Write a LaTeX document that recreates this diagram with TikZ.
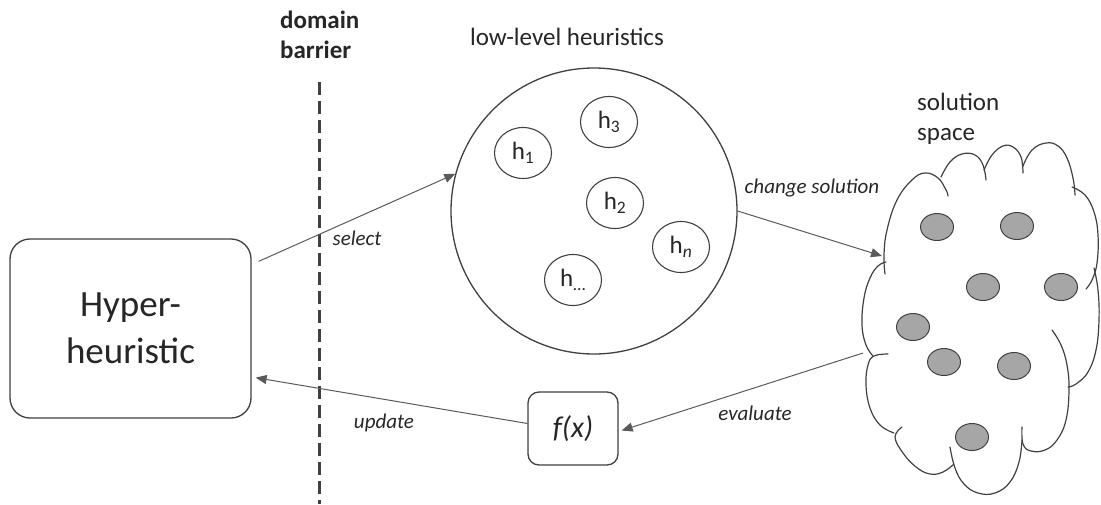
\documentclass[tikz,border=0pt]{standalone}
\usepackage{fontspec}
\setmainfont{Carlito}
\usetikzlibrary{shapes.geometric,arrows.meta,calc}
\definecolor{ink}{HTML}{262626}
\definecolor{edge}{HTML}{404040}
\definecolor{wire}{HTML}{5A5A5A}
\definecolor{dotfill}{HTML}{A6A6A6}
\begin{document}
\begin{tikzpicture}[x=1pt,y=1pt,
  title/.style={font=\fontsize{25}{30}\selectfont, text=ink, inner sep=0pt},
  edgelabel/.style={font=\itshape\fontsize{21}{25}\selectfont, text=ink, inner sep=0pt},
  roundbox/.style={draw=edge, line width=1.3pt, fill=white, inner sep=0pt},
  heur/.style={ellipse, draw=edge, line width=1.1pt, minimum width=57pt, minimum height=51pt,
    inner sep=0pt, font=\fontsize{25}{30}\selectfont, text=ink},
  soldot/.style={ellipse, draw=edge, line width=1pt, fill=dotfill, minimum width=33pt,
    minimum height=27pt, inner sep=0pt},
  lobe/.style={draw=edge, line width=1.2pt, line cap=round},
  arr/.style={wire, line width=1pt, -{Triangle[length=11pt,width=9pt]}},
  barrier/.style={edge, line width=3pt, dash pattern=on 13pt off 6pt}
]
\useasboundingbox (0,0) rectangle (1101,-504);

% domain barrier
\node[title, font=\bfseries\fontsize{25}{30}\selectfont, align=left, anchor=base west] (dbl) at (280,-58) {domain\\barrier};
\draw[barrier] (319,-82) -- (319,-504);

% hyper-heuristic box
\node[roundbox, rounded corners=20pt, minimum width=241pt, minimum height=179pt, align=center,
  font=\fontsize{37}{47}\selectfont, text=ink] (hh) at (130.5,-328.5) {Hyper-\\heuristic};

% low-level heuristics
\node[title, anchor=base] (llhl) at (567,-45) {low-level heuristics};
\node[circle, draw=edge, line width=1.3pt, minimum size=286pt, inner sep=0pt] (llh) at (594,-211) {};
\node[heur] (h1) at (523,-153) {h\textsubscript{1}};
\node[heur] (h3) at (609,-122) {h\textsubscript{3}};
\node[heur] (h2) at (615,-203) {h\textsubscript{2}};
\node[heur] (hn) at (681,-247) {h\textsubscript{\textit{n}}};
\node[heur] (hd) at (573,-280) {h\textsubscript{…}};

% solution space: a cloud made of overlapping lobes
\node[title, align=left, anchor=base west] (ssl) at (917,-140) {solution\\space};
\draw[lobe] plot[smooth, tension=0.7] coordinates {(885,-274) (884,-255) (887,-230) (897,-200) (912,-180) (925,-173) (938,-178) (946,-190) (948,-196)};
\draw[lobe] plot[smooth, tension=0.7] coordinates {(941,-177) (950,-162) (962,-154) (975,-155) (983,-165) (986,-180)};
\draw[lobe] plot[smooth, tension=0.7] coordinates {(984,-170) (992,-155) (1003,-146) (1013,-147) (1021,-157) (1023,-173)};
\draw[lobe] plot[smooth, tension=0.7] coordinates {(1023,-166) (1032,-150) (1046,-143) (1058,-146) (1067,-158) (1073,-178) (1075,-195)};
\draw[lobe] plot[smooth, tension=0.7] coordinates {(1072,-187) (1085,-195) (1094,-212) (1098,-235) (1097,-263) (1092,-280) (1086,-289)};
\draw[lobe] plot[smooth, tension=0.7] coordinates {(1094,-268) (1098,-290) (1099,-320) (1096,-350) (1088,-372) (1076,-384) (1068,-387)};
\draw[lobe] plot[smooth, tension=0.7] coordinates {(1052,-330) (1061,-345) (1067,-365) (1069,-390) (1066,-420) (1057,-440) (1045,-450) (1031,-451) (1023,-444) (1022,-427)};
\draw[lobe] plot[smooth, tension=0.7] coordinates {(1022,-440) (1019,-462) (1010,-482) (995,-493) (978,-493) (964,-484) (955,-468) (950,-447)};
\draw[lobe] plot[smooth, tension=0.7] coordinates {(954,-464) (943,-472) (930,-474) (916,-467) (903,-453) (895,-437) (902,-427)};
\draw[lobe] plot[smooth, tension=0.7] coordinates {(894,-433) (880,-425) (870,-408) (866,-385) (868,-365) (874,-356) (888,-354)};
\draw[lobe] plot[smooth, tension=0.7] coordinates {(873,-356) (866,-345) (862,-325) (864,-298) (870,-278) (878,-266) (886,-262)};
\coordinate (csin) at (882,-256);
\coordinate (csout) at (863,-353);
\node[soldot] (s1) at (937,-227) {};
\node[soldot] (s2) at (1017,-226) {};
\node[soldot] (s3) at (983,-287) {};
\node[soldot] (s4) at (1061,-287) {};
\node[soldot] (s5) at (913,-327) {};
\node[soldot] (s6) at (944,-362) {};
\node[soldot] (s7) at (1014,-366) {};
\node[soldot] (s8) at (972,-437) {};

% evaluation box
\node[roundbox, rounded corners=11pt, minimum width=90pt, minimum height=73pt,
  font=\itshape\fontsize{30}{36}\selectfont, text=ink] (fx) at (573,-428.5) {f(x)};

% connectors
\draw[arr] ([shift={(7,-23)}]hh.north east) -- (llh.165);
\draw[arr] (llh.0) -- (csin);
\draw[arr] (csout) -- ([shift={(3,-2)}]fx.east);
\draw[arr] ([yshift=5pt]fx.west) -- ([shift={(4,41)}]hh.south east);

\node[edgelabel] (lsel) at (357,-238) {select};
\node[edgelabel] (lchg) at (812,-188) {change solution};
\node[edgelabel] (leva) at (755,-413) {evaluate};
\node[edgelabel] (lupd) at (384,-423) {update};
\end{tikzpicture}
\end{document}
